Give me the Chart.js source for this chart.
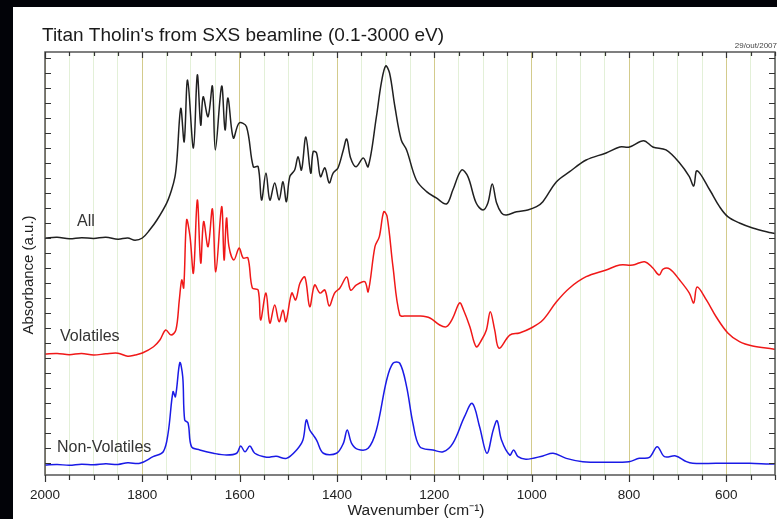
<!DOCTYPE html>
<html>
<head>
<meta charset="utf-8">
<script src="https://cdn.jsdelivr.net/npm/chart.js@4/dist/chart.umd.min.js"></script>
<style>
  html, body { margin: 0; padding: 0; background: #020308; }
  canvas { display: block; }
</style>
</head>
<body>
<canvas id="myChart" width="777" height="519"></canvas>
<script>
// spectra (wavenumber in cm-1, absorbance offset in a.u.)
const allWn = [2000,1975,1950,1925,1900,1875,1850,1830,1815,1800,1785,1770,1750,1740,1733,1729,1721,1714,1707,1695,1687,1680,1675,1665,1656,1650,1637,1630,1624,1613,1601,1586,1572,1562,1555,1546,1538,1528,1519,1511,1504,1497,1487,1480,1473,1464,1454,1449,1442,1434,1425,1416,1408,1398,1387,1380,1372,1361,1346,1336,1319,1309,1300,1292,1281,1268,1257,1237,1216,1196,1175,1162,1144,1131,1114,1100,1090,1081,1072,1062,1052,1031,1008,990,977,949,922,888,847,819,799,770,751,724,696,676,667,660,634,614,597,573,546,508,500];
const allAbs = [15.0,15.05,14.95,15.02,14.97,15.05,14.92,15.0,14.85,15.0,15.53,16.2,17.33,18.2,19.07,20.2,23.65,21.42,25.53,21.0,25.87,22.53,24.42,23.09,25.13,20.87,25.13,22.2,24.33,21.67,22.67,22.42,19.75,19.75,17.53,19.33,17.53,18.67,17.53,18.75,17.42,19.09,19.53,20.42,19.53,21.73,19.33,20.75,20.67,19.09,19.67,18.67,19.33,19.67,20.87,21.6,20.33,19.75,20.33,19.75,23.09,25.33,26.47,26.0,23.75,21.53,20.87,18.87,18.09,17.67,17.27,18.2,19.53,19.09,17.33,16.87,17.33,18.6,17.33,16.67,16.53,16.75,16.87,17.09,17.42,18.75,19.42,20.2,20.67,21.07,21.07,21.49,21.07,20.87,20.0,19.09,18.47,19.49,18.2,17.09,16.42,16.0,15.67,15.35,15.3];

const volWn = [2000,1975,1950,1925,1900,1875,1850,1830,1815,1800,1777,1764,1752,1741,1731,1724,1719,1715,1709,1702,1695,1687,1680,1674,1665,1656,1649,1637,1632,1627,1622,1612,1601,1593,1583,1574,1562,1557,1546,1538,1528,1519,1511,1505,1493,1485,1476,1466,1456,1446,1435,1425,1416,1405,1394,1380,1372,1360,1343,1336,1322,1313,1304,1297,1285,1271,1257,1230,1209,1189,1175,1162,1148,1140,1127,1114,1103,1093,1085,1076,1067,1045,1025,1001,977,949,922,888,847,819,792,768,751,738,730,716,696,676,667,660,641,621,597,573,546,504,500];
const volAbs = [7.27,7.3,7.22,7.3,7.2,7.28,7.32,7.12,7.2,7.33,7.75,8.2,8.87,8.53,8.87,10.87,12.2,11.67,16.2,15.09,12.67,17.53,13.33,16.09,14.42,16.93,12.75,17.09,13.53,16.33,14.42,13.53,14.33,13.67,13.67,11.67,11.53,9.53,11.33,9.33,10.53,9.42,10.2,9.42,11.33,10.87,12.0,12.4,10.42,11.87,11.33,11.53,10.47,11.33,11.67,12.4,11.53,11.87,12.09,11.42,14.42,15.09,16.75,16.42,13.09,9.87,9.8,9.8,9.67,9.2,9.09,9.67,10.67,10.2,9.09,7.75,8.2,8.87,10.09,8.87,7.65,8.53,8.67,9.0,9.53,10.75,11.67,12.42,12.87,13.2,13.2,13.42,13.0,12.53,12.93,12.93,12.2,11.33,10.67,11.73,10.87,9.75,8.67,8.09,7.8,7.6,7.58];

const nonWn = [2000,1975,1950,1925,1900,1875,1850,1830,1805,1778,1757,1747,1737,1732,1723,1717,1713,1706,1699,1682,1654,1627,1606,1598,1589,1579,1569,1545,1525,1504,1483,1470,1463,1456,1449,1442,1428,1401,1387,1379,1370,1357,1336,1319,1298,1285,1271,1257,1244,1230,1203,1182,1162,1138,1122,1107,1092,1079,1071,1062,1045,1037,1028,1011,977,956,929,895,847,800,779,758,742,727,704,682,669,621,552,511,500];
const nonAbs = [-0.13,-0.1,-0.15,-0.08,-0.12,-0.05,-0.1,0.02,-0.02,0.42,0.75,2.0,4.75,4.42,6.69,5.75,2.87,2.67,1.09,0.87,0.65,0.53,0.65,1.13,0.75,1.13,0.65,0.38,0.45,0.31,0.87,1.53,2.87,2.2,1.87,1.53,0.65,0.65,1.31,2.2,1.31,0.91,0.98,2.2,5.53,6.65,6.65,5.09,2.65,1.09,0.87,0.75,1.31,3.09,3.98,2.42,0.65,2.2,2.82,1.53,0.53,0.87,0.42,0.25,0.47,0.65,0.31,0.09,0.05,0.09,0.31,0.38,1.09,0.42,0.47,0.09,-0.02,-0.02,-0.02,-0.07,-0.07];

const seriesNames = ['All', 'Volatiles', 'Non-Volatiles'];
const xTickLabels = [2000, 1800, 1600, 1400, 1200, 1000, 800, 600];

const FONT = '"Liberation Sans", Arial, sans-serif';

function toPoints(wn, ab) {
    return wn.map((w, i) => ({ x: w, y: ab[i] }));
}

// page frame, texts and inward tick marks
const decor = {
    id: 'decor',
    beforeDraw(chart) {
        const c = chart.ctx;
        c.save();
        c.fillStyle = '#020308';
        c.fillRect(0, 0, chart.width, chart.height);
        c.fillStyle = '#ffffff';
        c.fillRect(13, 7, chart.width - 13, chart.height - 7);
        c.restore();
    },
    afterDraw(chart) {
        const c = chart.ctx;
        const a = chart.chartArea;
        const xs = chart.scales.x;
        const ys = chart.scales.y;
        c.save();

        // frame
        c.strokeStyle = '#555';
        c.lineWidth = 1.5;
        c.strokeRect(a.left, a.top, a.right - a.left, a.bottom - a.top);

        // x ticks, every 50
        c.strokeStyle = '#333';
        c.lineWidth = 1.2;
        for (let v = 500; v <= 2000; v += 50) {
            const px = Math.round(xs.getPixelForValue(v)) + 0.5;
            const big = v % 200 === 0;
            c.beginPath();
            c.moveTo(px, a.top);
            c.lineTo(px, a.top + (big ? 6 : 4));
            c.moveTo(px, a.bottom);
            c.lineTo(px, a.bottom + (big ? 7 : 5));
            c.stroke();
        }
        // y ticks, inward on both sides
        for (let v = 0; v <= 27; v++) {
            const py = Math.round(ys.getPixelForValue(v)) + 0.5;
            c.beginPath();
            c.moveTo(a.left, py);
            c.lineTo(a.left + 6, py);
            c.moveTo(a.right, py);
            c.lineTo(a.right - 6, py);
            c.stroke();
        }

        // titles
        c.fillStyle = '#1a1a1a';
        c.textBaseline = 'middle';
        c.textAlign = 'left';
        c.font = '19px ' + FONT;
        c.fillText("Titan Tholin's from SXS beamline (0.1-3000 eV)", 42, 36);

        c.fillStyle = '#444';
        c.font = '8px ' + FONT;
        c.textAlign = 'right';
        c.fillText('29/out/2007', 777, 46);

        c.fillStyle = '#222';
        c.font = '15.5px ' + FONT;
        c.textAlign = 'center';
        c.fillText('Wavenumber (cm\u207B\u00B9)', 416, 511);

        c.font = '15px ' + FONT;
        c.save();
        c.translate(29, 275);
        c.rotate(-Math.PI / 2);
        c.fillText('Absorbance (a.u.)', 0, 0);
        c.restore();

        // series labels
        c.fillStyle = '#333';
        c.font = '16px ' + FONT;
        c.textAlign = 'left';
        c.fillText(seriesNames[0], 77, 222);
        c.fillText(seriesNames[1], 60, 337);
        c.fillText(seriesNames[2], 57, 448);

        c.restore();
    }
};

const data = {
    datasets: [
        { label: seriesNames[0], data: toPoints(allWn, allAbs), borderColor: '#202020' },
        { label: seriesNames[1], data: toPoints(volWn, volAbs), borderColor: '#f01818' },
        { label: seriesNames[2], data: toPoints(nonWn, nonAbs), borderColor: '#1a1ae6' }
    ]
};

const config = {
    type: 'line',
    data: data,
    options: {
        responsive: false,
        animation: false,
        devicePixelRatio: 1,
        layout: { padding: { top: 52, left: 0, right: 2, bottom: 0 } },
        elements: {
            point: { radius: 0 },
            line: { borderWidth: 1.5, tension: 0.35 }
        },
        plugins: {
            legend: { display: false },
            tooltip: { enabled: false }
        },
        scales: {
            x: {
                type: 'linear',
                reverse: true,
                min: 500,
                max: 2000,
                afterFit(s) { s.height = 44; s.paddingLeft = 0; s.paddingRight = 0; },
                border: { display: false },
                grid: {
                    drawTicks: false,
                    lineWidth: 1,
                    color: (ctx) => (ctx.tick && ctx.tick.value % 200 === 0) ? '#d3cb8c' : '#e3f0d8'
                },
                ticks: {
                    stepSize: 50,
                    autoSkip: false,
                    maxRotation: 0,
                    padding: 12,
                    color: '#222',
                    font: { family: FONT, size: 13.5 },
                    callback: (v) => xTickLabels.includes(v) ? String(v) : ''
                }
            },
            y: {
                type: 'linear',
                min: -0.8,
                max: 27.4,
                afterFit(s) { s.width = 45; },
                border: { display: false },
                grid: { display: false },
                ticks: { display: false }
            }
        }
    },
    plugins: [decor]
};

const myChart = new Chart(document.getElementById('myChart'), config);
</script>
</body>
</html>
